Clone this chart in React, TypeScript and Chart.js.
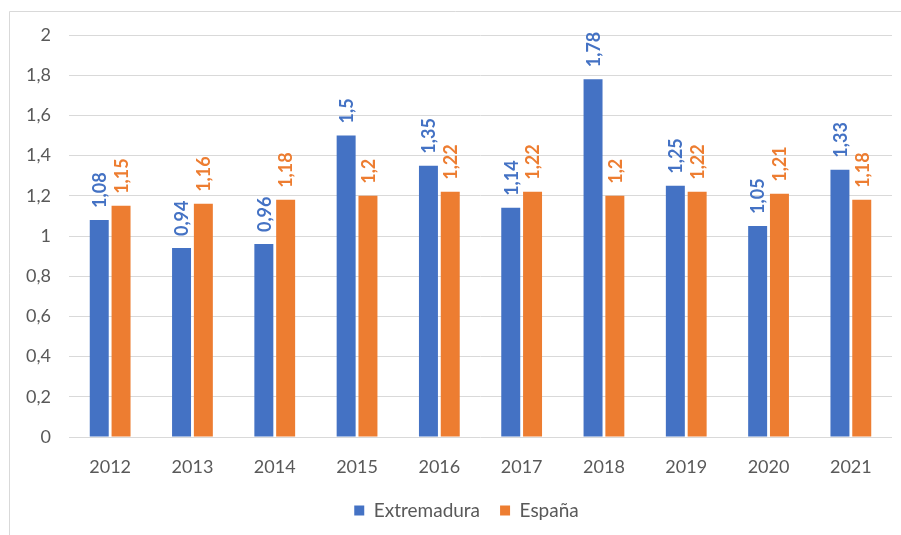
import React, { useEffect, useRef } from "react";
import { Chart, registerables } from "chart.js";

Chart.register(...registerables);

const years = ["2012", "2013", "2014", "2015", "2016", "2017", "2018", "2019", "2020", "2021"];
const extremadura = [1.08, 0.94, 0.96, 1.5, 1.35, 1.14, 1.78, 1.25, 1.05, 1.33];
const espana = [1.15, 1.16, 1.18, 1.2, 1.22, 1.22, 1.2, 1.22, 1.21, 1.18];
const seriesNames = ["Extremadura", "España"];
const seriesColors = ["#4472C4", "#ED7D31"];

const FONT = "Lato, 'Open Sans', sans-serif";
const fmt = (v: number) => String(v).replace(".", ",");

const borderPlugin = {
  id: "outerBorder",
  beforeDraw(chart: any) {
    const ctx = chart.ctx;
    ctx.save();
    ctx.strokeStyle = "#d9d9d9";
    ctx.lineWidth = 1;
    ctx.beginPath();
    ctx.moveTo(9.5, chart.height + 5);
    ctx.lineTo(9.5, 11.5);
    ctx.lineTo(chart.width + 5, 11.5);
    ctx.stroke();
    ctx.restore();
  },
};

const legendShift = {
  id: "legendShift",
  afterLayout(chart: any) {
    if (chart.legend) {
      chart.legend.left += 16;
      chart.legend.right += 16;
    }
  },
};

const labelPlugin = {
  id: "barLabels",
  afterDatasetsDraw(chart: any) {
    const ctx = chart.ctx;
    chart.data.datasets.forEach((ds: any, di: number) => {
      const meta = chart.getDatasetMeta(di);
      meta.data.forEach((el: any, i: number) => {
        const v = ds.data[i];
        ctx.save();
        ctx.translate(el.x, el.y - 12);
        ctx.rotate(-Math.PI / 2);
        ctx.font = `bold 18px ${FONT}`;
        ctx.fillStyle = seriesColors[di];
        ctx.textAlign = "left";
        ctx.textBaseline = "middle";
        ctx.fillText(fmt(v), 0, 1);
        ctx.restore();
      });
    });
  },
};

export default function App() {
  const ref = useRef<HTMLCanvasElement>(null);
  useEffect(() => {
    document.body.style.margin = "0";
    const chart = new Chart(ref.current!, {
      type: "bar",
      data: {
        labels: years,
        datasets: [
          {
            label: seriesNames[0],
            data: extremadura,
            backgroundColor: seriesColors[0],
            categoryPercentage: 0.53,
            barPercentage: 0.87,
          },
          {
            label: seriesNames[1],
            data: espana,
            backgroundColor: seriesColors[1],
            categoryPercentage: 0.53,
            barPercentage: 0.87,
          },
        ],
      },
      options: {
        responsive: false,
        animation: false,
        layout: { padding: { left: 9, right: 9, top: 35, bottom: 5 } },
        plugins: {
          tooltip: { enabled: false },
          legend: {
            position: "bottom",
            labels: {
              boxWidth: 10,
              boxHeight: 10,
              padding: 20,
              color: "#595959",
              font: { family: FONT, size: 19 },
            },
          },
        },
        scales: {
          x: {
            grid: { display: false, drawTicks: false },
            border: { display: false },
            ticks: { color: "#595959", font: { family: FONT, size: 18 }, padding: 19 },
            afterFit: (s: any) => {
              s.height = 44;
            },
          },
          y: {
            min: 0,
            max: 2,
            grid: { color: "#d9d9d9", lineWidth: 1, drawTicks: false },
            border: { display: false },
            ticks: {
              stepSize: 0.2,
              color: "#595959",
              font: { family: FONT, size: 18 },
              padding: 18,
              callback: (v: any) => fmt(Math.round(Number(v) * 10) / 10),
            },
            afterFit: (s: any) => {
              s.width = 60;
            },
          },
        },
      },
      plugins: [borderPlugin, legendShift, labelPlugin],
    } as any);
    return () => chart.destroy();
  }, []);
  return <canvas ref={ref} width={901} height={535} style={{ display: "block" }} />;
}
